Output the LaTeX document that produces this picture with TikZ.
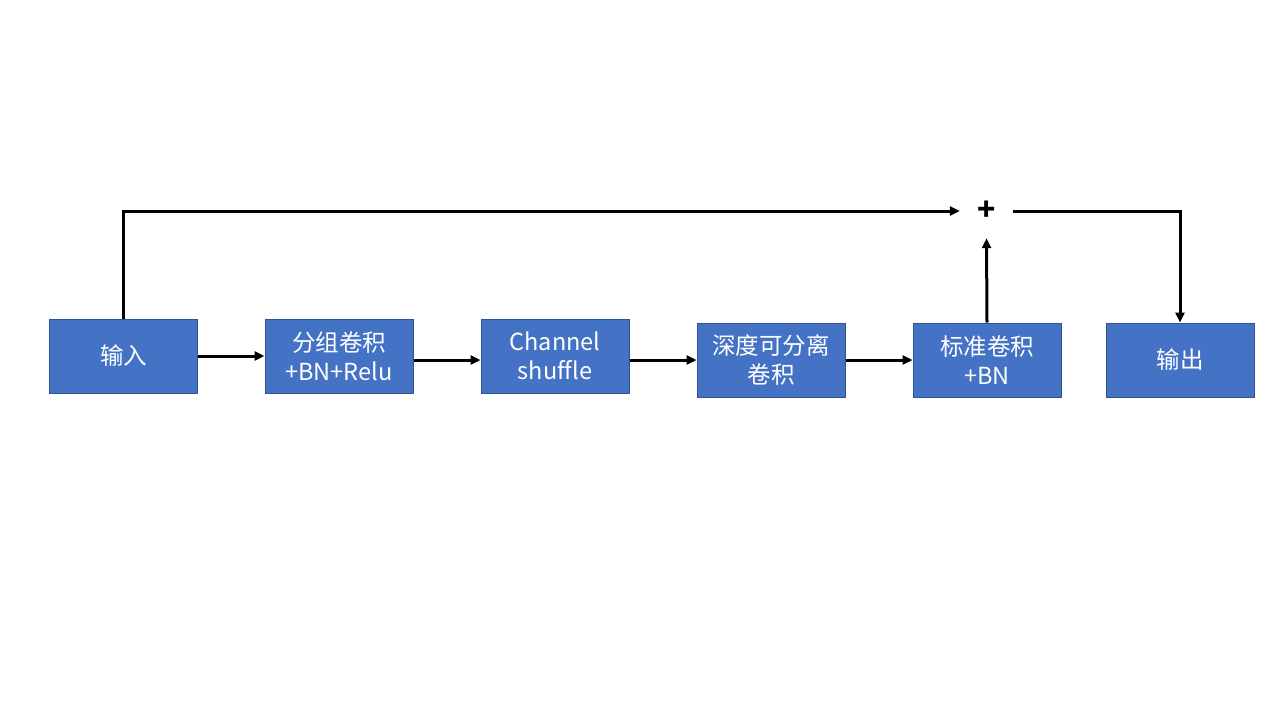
\documentclass[tikz,border=0pt]{standalone}
\usepackage{fontspec}
\setmainfont[Ligatures=NoCommon]{Noto Sans CJK SC}
\usetikzlibrary{arrows.meta}
\definecolor{boxblue}{HTML}{4472C4}
\definecolor{boxedge}{HTML}{2F528F}
\tikzset{
  blockbox/.style={draw=boxedge, line width=1pt, fill=boxblue, text=white,
    minimum width=148pt, minimum height=74pt, inner sep=0pt, align=center,
    font=\fontsize{23.5}{29}\selectfont},
  conn/.style={line width=3pt, -{Triangle[length=10pt,width=9pt]}},
}
\begin{document}
\begin{tikzpicture}[x=1pt,y=-1pt]
\useasboundingbox (0,0) rectangle (1280,720);
\node[blockbox] (b1) at (123.5,356) {输入};
\node[blockbox] (b2) at (339,356) {分组卷积\\+BN+Relu};
\node[blockbox] (b3) at (555,356) {Channel\\shuffle};
\node[blockbox] (b4) at (771,360) {深度可分离\\卷积};
\node[blockbox] (b5) at (987,360) {标准卷积\\+BN};
\node[blockbox] (b6) at (1180,360) {输出};
\node[minimum width=53pt, minimum height=54pt, inner sep=0pt,
  font=\fontsize{30}{30}\selectfont\bfseries] (plus) at (986.5,211) {\raisebox{-2pt}{+}};
\draw[conn] (b1.east) -- (b2.west);
\draw[conn] (b2.east |- b4) -- (b3.west |- b4);
\draw[conn] (b3.east |- b4) -- (b4.west);
\draw[conn] (b4.east) -- (b5.west);
\draw[conn] (b1.north) |- (plus.west);
\draw[conn] (b5.north) -- (plus.south);
\draw[conn] (plus.east) -| (b6.north);
\end{tikzpicture}
\end{document}
